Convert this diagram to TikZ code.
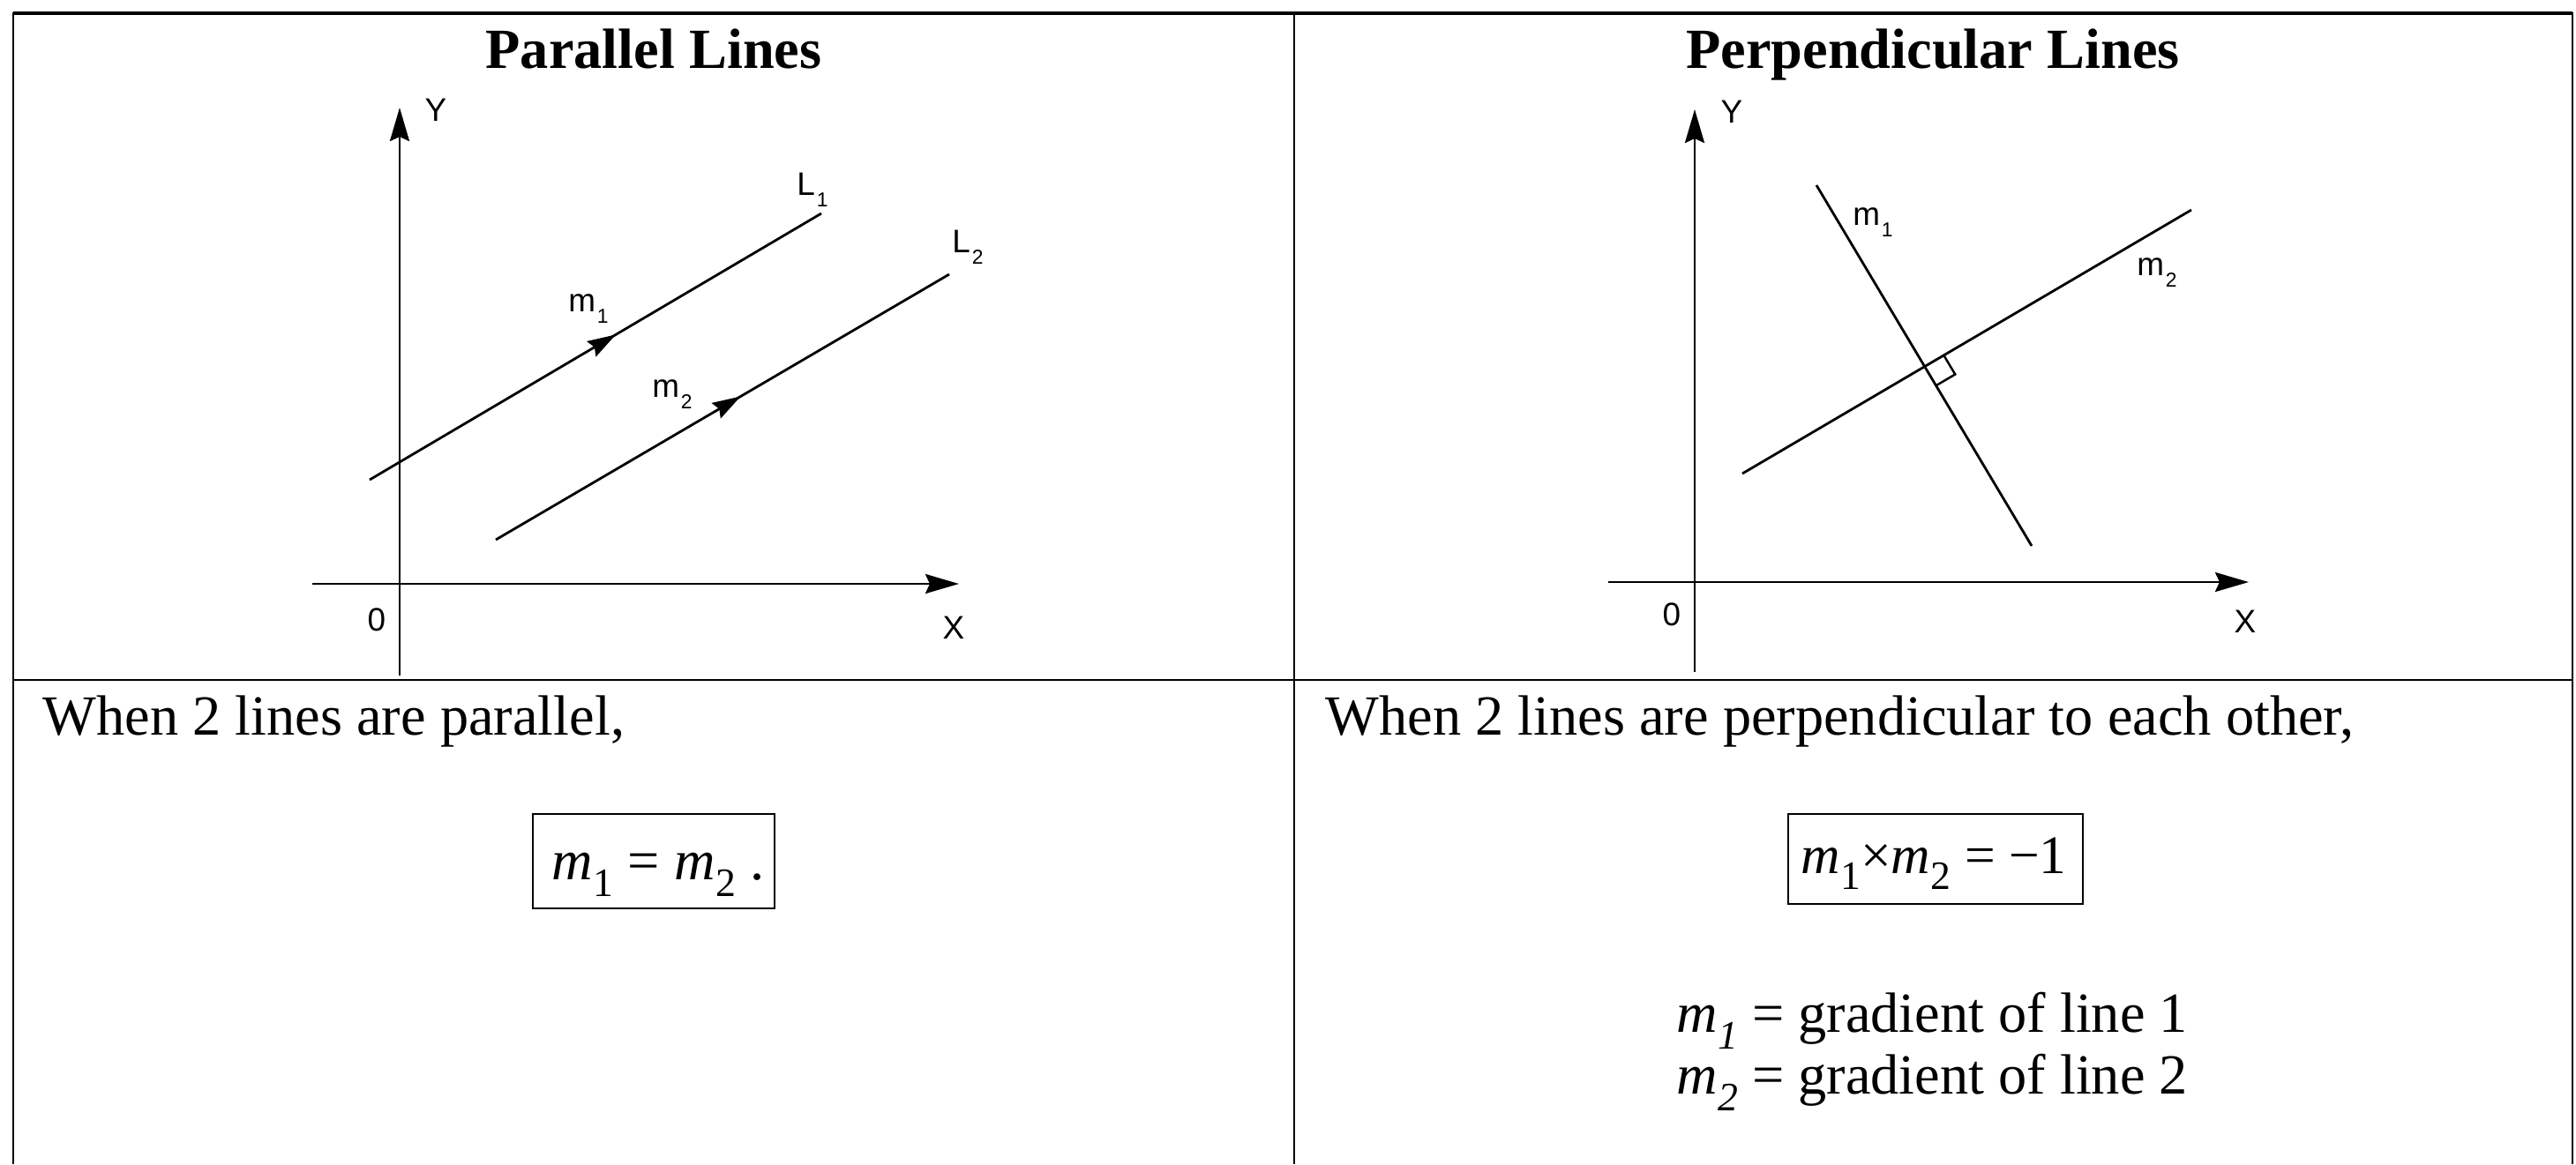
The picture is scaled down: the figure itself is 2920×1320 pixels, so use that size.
\documentclass[tikz,border=0pt]{standalone}
\usepackage{fontspec}
\setmainfont{Liberation Serif}
\newfontfamily\labelfont{Liberation Sans}
\usetikzlibrary{arrows.meta,calc,decorations.markings}
\newcommand{\msub}[2][\upshape]{\textit{m}\kern0.01em\raisebox{-0.3em}{\fontsize{13}{13}\selectfont #1#2}}
\newcommand{\lsub}[2]{#1\kern0.05em\raisebox{-0.35em}{\fontsize{6.5}{7}\selectfont #2}}
\begin{document}
\begin{tikzpicture}[x=0.01cm,y=-0.01cm,
  tbl/.style={line width=0.6pt},
  ln/.style={line width=0.8pt},
  axis/.style={line width=0.8pt,-{Stealth[length=0.38cm,width=0.22cm,inset=0.05cm]}},
  lbl/.style={font=\labelfont\fontsize{10.5}{12}\selectfont, inner sep=0pt},
  body/.style={font=\fontsize{18.3}{22}\selectfont, inner sep=0pt},
  ttl/.style={font=\bfseries\fontsize{18.3}{22}\selectfont, inner sep=0pt, anchor=base},
  midarrow/.style={postaction={decorate},decoration={markings,mark=at position #1 with {\arrow{Stealth[length=0.32cm,width=0.2cm,inset=0.04cm]}}}},
  fbox/.style={draw,line width=0.7pt,inner sep=0pt}
]
\useasboundingbox (0,0) rectangle (2920,1320);
% table
\coordinate (tl) at (15,15);
\coordinate (tr) at (2916,15);
\coordinate (bl) at (15,1320);
\coordinate (br) at (2916,1320);
\coordinate (tm) at (1467,15);
\coordinate (bm) at (1467,1320);
\coordinate (ml) at (15,771);
\coordinate (mr) at (2916,771);
\draw[tbl] (bl) -- (tl) -- (tr) -- (br);
\draw[line width=0.9pt] (tl) -- (tr);
\draw[tbl] (tm) -- (bm);
\draw[line width=0.75pt] (ml) -- (mr);
% titles
\node[ttl] (t1) at (741,77) {Parallel Lines};
\node[ttl] (t2) at (2191,77) {Perpendicular Lines};
% left diagram
\coordinate (y1b) at (453,766);
\coordinate (y1t) at (453,122);
\coordinate (x1l) at (354,662);
\coordinate (x1r) at (1087,662);
\draw[axis] (y1b) -- (y1t);
\draw[axis] (x1l) -- (x1r);
\coordinate (l1a) at (419,544);
\coordinate (l1b) at (931,242);
\coordinate (l2a) at (562,612);
\coordinate (l2b) at (1076,311);
\draw[ln,midarrow=0.545] (l1a) -- (l1b);
\draw[ln,midarrow=0.54] (l2a) -- (l2b);
\node[lbl] (ly1) at (494,125) {Y};
\node[lbl] (lo1) at (427,703) {0};
\node[lbl] (lx1) at (1081,712) {X};
\node[lbl] (lL1) at (921,215) {\lsub{L}{1}};
\node[lbl] (lL2) at (1097,280) {\lsub{L}{2}};
\node[lbl] (lm1) at (667,350) {\lsub{m}{1}};
\node[lbl] (lm2) at (762,447) {\lsub{m}{2}};
% right diagram
\coordinate (y2b) at (1921,762);
\coordinate (y2t) at (1921,124);
\coordinate (x2l) at (1823,660);
\coordinate (x2r) at (2549,660);
\draw[axis] (y2b) -- (y2t);
\draw[axis] (x2l) -- (x2r);
\coordinate (m1a) at (2059,210);
\coordinate (m1b) at (2303,619);
\coordinate (m2a) at (1975,537);
\coordinate (m2b) at (2484,238);
\draw[ln] (m1a) -- (m1b);
\draw[ln] (m2a) -- (m2b);
\coordinate (P) at (intersection of m1a--m1b and m2a--m2b);
\coordinate (RA) at ($(P)!0.25cm!(m2b)$);
\coordinate (RC) at ($(P)!0.25cm!(m1b)$);
\coordinate (RB) at ($(RA)+(RC)-(P)$);
\draw[line width=0.7pt] (RA) -- (RB) -- (RC);
\node[lbl] (ry) at (1963,127) {Y};
\node[lbl] (ro) at (1895,697) {0};
\node[lbl] (rx) at (2545,705) {X};
\node[lbl] (rm1) at (2123,252) {\lsub{m}{1}};
\node[lbl] (rm2) at (2445,309) {\lsub{m}{2}};
% bottom texts
\node[body,anchor=base west] (w1) at (48,833) {When 2 lines are parallel,};
\node[body,anchor=base west] (w2) at (1502,833) {When 2 lines are perpendicular to each other,};
\node[fbox,minimum width=2.74cm,minimum height=1.07cm] (b1) at (741,976.5) {};
\node[body,anchor=base] (f1) at (746,997) {\msub{1} = \msub{2}\ .};
\node[fbox,minimum width=3.34cm,minimum height=1.02cm] (b2) at (2194,974) {};
\node[body,anchor=base,font=\fontsize{17.5}{21}\selectfont] (f2) at (2192,990) {\msub{1}×\msub{2} = −1};
\node[body,anchor=base] (g1) at (2190,1170) {\msub[\itshape]{1} = gradient of line 1};
\node[body,anchor=base] (g2) at (2190,1240) {\msub[\itshape]{2} = gradient of line 2};
\end{tikzpicture}
\end{document}
